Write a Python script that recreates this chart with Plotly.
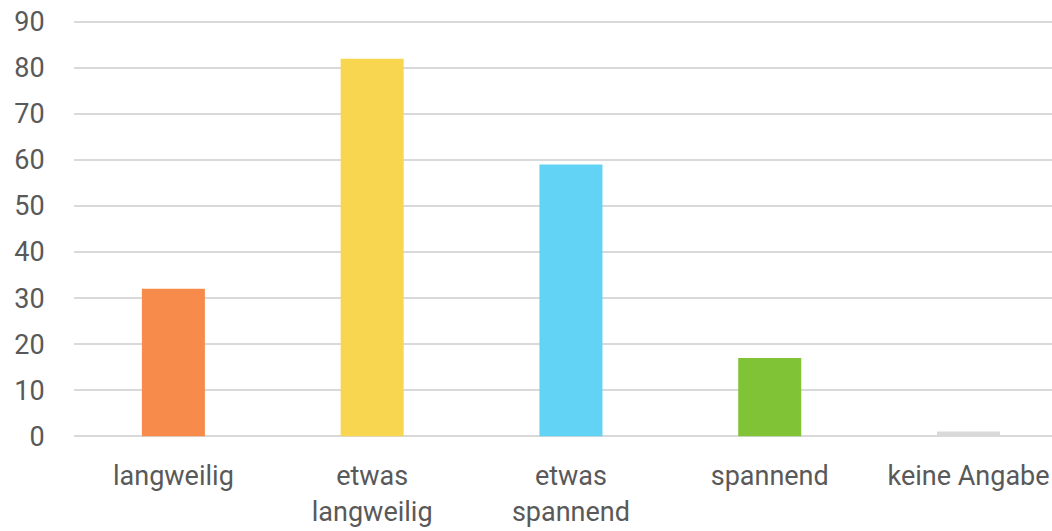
import plotly.graph_objects as go

categories = ["langweilig", "etwas<br>langweilig", "etwas<br>spannend", "spannend", "keine Angabe"]
values = [32, 82, 59, 17, 1]
colors = ["#F68B4B", "#F8D64F", "#62D3F4", "#80C337", "#D9D9D9"]
y_ticks = [0, 10, 20, 30, 40, 50, 60, 70, 80, 90]

fig = go.Figure(go.Bar(x=list(range(len(categories))), y=values, marker_color=colors,
                       marker_line_width=0, width=0.317))

font = dict(family="Roboto, Noto Sans, sans-serif", size=27, color="#595959")
fig.update_layout(
    width=1052, height=531,
    margin=dict(l=74, r=0, t=20, b=93),
    plot_bgcolor="white", paper_bgcolor="white",
    font=font, showlegend=False,
    xaxis=dict(tickmode="array", tickvals=list(range(len(categories))), ticktext=categories,
               range=[-0.5, 4.42], showgrid=False, zeroline=False, showline=False,
               ticks="outside", ticklen=14, tickcolor="rgba(0,0,0,0)", automargin=False,
               tickfont=dict(size=27), ticklabeloverflow="allow"),
    yaxis=dict(range=[-0.4, 90.4], tickvals=y_ticks, showgrid=True, gridcolor="#D9D9D9",
               gridwidth=2, zeroline=True, zerolinecolor="#D9D9D9", zerolinewidth=2,
               ticks="outside", ticklen=23, tickcolor="rgba(0,0,0,0)", automargin=False,
               ticklabeloverflow="allow"),
)
fig.write_html("out.html", config={"displayModeBar": False},
               post_script="document.body.style.margin='0';document.body.style.overflow='hidden';")
